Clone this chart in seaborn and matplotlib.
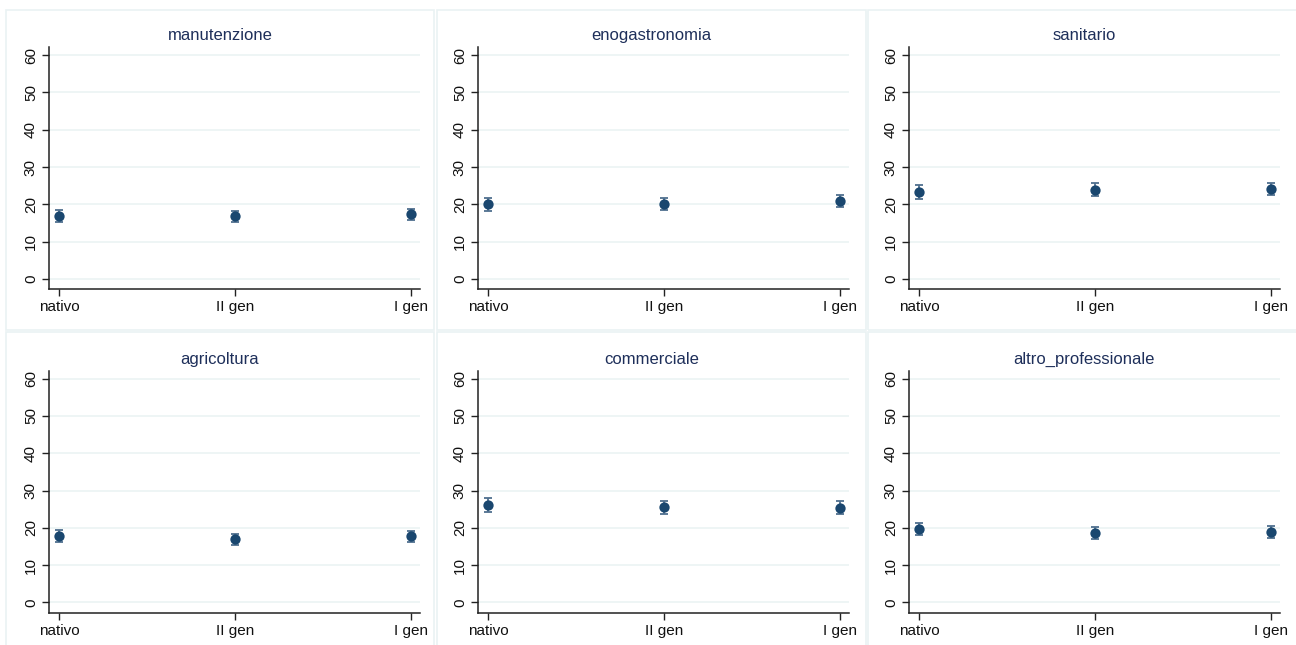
import numpy as np
import pandas as pd
import matplotlib
matplotlib.use('Agg')
import matplotlib.pyplot as plt
import seaborn as sns
from matplotlib.patches import Rectangle

groups = ['nativo', 'II gen', 'I gen']
sectors = ['manutenzione', 'enogastronomia', 'sanitario',
           'agricoltura', 'commerciale', 'altro_professionale']

# estimated means (%) per sector, same order as groups
manutenzione = [16.9, 16.8, 17.3]
enogastronomia = [20.0, 20.2, 20.9]
sanitario = [23.3, 23.9, 24.1]
agricoltura = [17.8, 16.9, 17.7]
commerciale = [26.1, 25.5, 25.4]
altro_professionale = [19.7, 18.6, 18.8]

# half-width of the confidence intervals
ci_manutenzione = [1.6, 1.5, 1.5]
ci_enogastronomia = [1.65, 1.6, 1.6]
ci_sanitario = [1.8, 1.75, 1.6]
ci_agricoltura = [1.6, 1.5, 1.5]
ci_commerciale = [1.8, 1.75, 1.8]
ci_altro_professionale = [1.65, 1.6, 1.6]

means = [manutenzione, enogastronomia, sanitario, agricoltura, commerciale, altro_professionale]
cis = [ci_manutenzione, ci_enogastronomia, ci_sanitario, ci_agricoltura, ci_commerciale, ci_altro_professionale]

rows = []
for s, m, c in zip(sectors, means, cis):
    for g, mv, cv in zip(groups, m, c):
        rows.append({'sector': s, 'group': g, 'mean': mv, 'ci': cv})
df = pd.DataFrame(rows)

sns.set_style('white')
plt.rcParams['font.family'] = ['Liberation Sans', 'DejaVu Sans']

navy = '#1a476f'
bar_col = '#4f6f8f'
grid_col = '#eaf2f3'
W, H = 1296, 645

fig = plt.figure(figsize=(W / 100, H / 100), dpi=100)

# panel boxes (pixels): x0, x1 per column, y0, y1 per row
box_x = [(6, 434), (437, 866), (868, 1300)]
box_y = [(10, 330), (332, 648)]
ax_x = [(49, 420), (478, 849), (909, 1280)]
ax_y = [(47, 289), (370.5, 612.5)]

for i, sector in enumerate(sectors):
    r, c = divmod(i, 3)
    bx0, bx1 = box_x[c]
    by0, by1 = box_y[r]
    fig.patches.append(Rectangle((bx0 / W, 1 - by1 / H), (bx1 - bx0) / W, (by1 - by0) / H,
                                 transform=fig.transFigure, fill=False,
                                 edgecolor=grid_col, linewidth=1.2, zorder=0))
    x0, x1 = ax_x[c]
    y0, y1 = ax_y[r]
    ax = fig.add_axes([x0 / W, 1 - y1 / H, (x1 - x0) / W, (y1 - y0) / H])
    d = df[df['sector'] == sector]

    ax.errorbar(d['group'], d['mean'], yerr=d['ci'], fmt='none', ecolor=bar_col,
                elinewidth=1.3, capsize=3, capthick=1.3, zorder=2)
    sns.scatterplot(data=d, x='group', y='mean', ax=ax, color=navy, s=55,
                    edgecolor=navy, linewidth=0, zorder=3)

    ax.set_ylim(-2.7, 62.2)
    ax.set_xlim(-0.057, 2.051)
    ax.set_yticks([0, 10, 20, 30, 40, 50, 60])
    ax.grid(axis='y', color=grid_col, linewidth=1.1)
    ax.set_axisbelow(True)
    for sp in ['top', 'right']:
        ax.spines[sp].set_visible(False)
    for sp in ['left', 'bottom']:
        ax.spines[sp].set_color('#222222')
        ax.spines[sp].set_linewidth(1.1)
    ax.tick_params(axis='both', which='both', direction='out', length=5, width=1,
                   color='#222222', labelsize=11, labelcolor='#111111', pad=3,
                   left=True, bottom=True)
    for lab in ax.get_yticklabels():
        lab.set_rotation(90)
        lab.set_va('center')
    ax.set_xlabel('')
    ax.set_ylabel('')
    cx = ((bx0 + bx1) / 2 - x0) / (x1 - x0)
    ax.set_title(sector, x=cx, color='#1e2f5a', fontsize=12, pad=5)

fig.savefig('out.png', dpi=100, facecolor='white')
